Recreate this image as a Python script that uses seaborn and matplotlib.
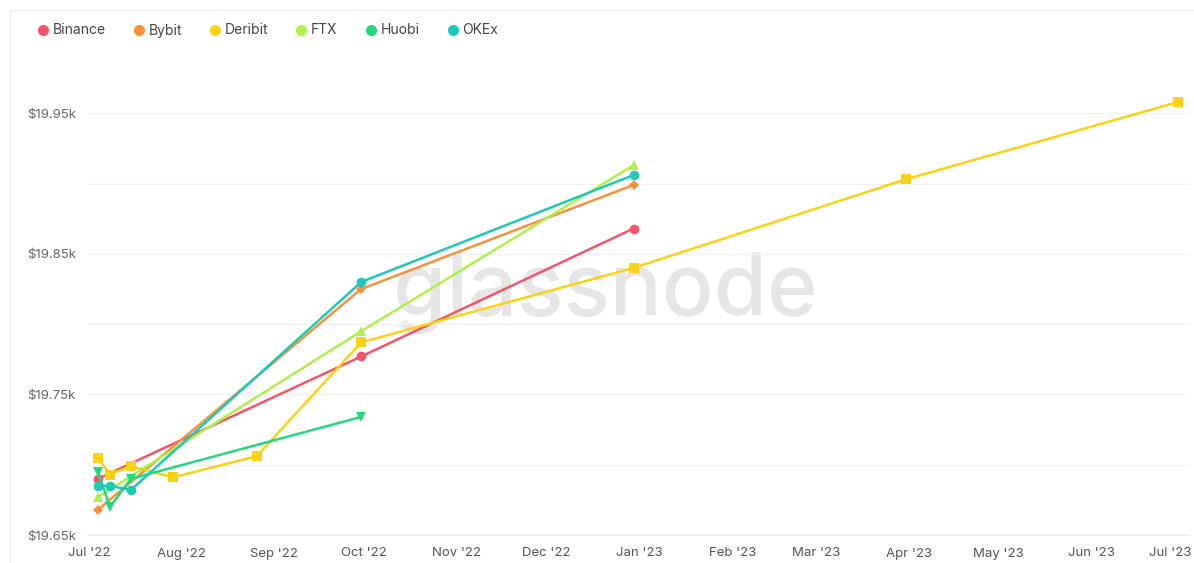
import pandas as pd
import numpy as np
import matplotlib
matplotlib.use("Agg")
import matplotlib.pyplot as plt
import matplotlib.dates as mdates
import matplotlib.transforms as mtransforms
from matplotlib.lines import Line2D
import seaborn as sns

# Futures price by expiry date (USD)
exchanges = ["Binance", "Bybit", "Deribit", "FTX", "Huobi", "OKEx"]

binance_dates = ["2022-07-04", "2022-09-30", "2022-12-30"]
binance_prices = [19690, 19777, 19868]

bybit_dates = ["2022-07-04", "2022-09-30", "2022-12-30"]
bybit_prices = [19668, 19825, 19899]

deribit_dates = ["2022-07-04", "2022-07-08", "2022-07-15", "2022-07-29", "2022-08-26",
                 "2022-09-30", "2022-12-30", "2023-03-31", "2023-06-30"]
deribit_prices = [19705, 19693, 19699, 19691, 19706, 19787, 19840, 19903, 19958]

ftx_dates = ["2022-07-04", "2022-09-30", "2022-12-30"]
ftx_prices = [19677, 19795, 19913]

huobi_dates = ["2022-07-04", "2022-07-08", "2022-07-15", "2022-09-30"]
huobi_prices = [19695, 19670, 19690, 19734]

okex_dates = ["2022-07-04", "2022-07-08", "2022-07-15", "2022-09-30", "2022-12-30"]
okex_prices = [19685, 19685, 19682, 19830, 19906]

colors = {"Binance": "#f5556a", "Bybit": "#f8913c", "Deribit": "#fcd116",
          "FTX": "#aef04c", "Huobi": "#27d67d", "OKEx": "#1ec9b8"}
markers = {"Binance": "o", "Bybit": "D", "Deribit": "s",
           "FTX": "^", "Huobi": "v", "OKEx": "o"}

series = {
    "Binance": (binance_dates, binance_prices),
    "Bybit": (bybit_dates, bybit_prices),
    "Deribit": (deribit_dates, deribit_prices),
    "FTX": (ftx_dates, ftx_prices),
    "Huobi": (huobi_dates, huobi_prices),
    "OKEx": (okex_dates, okex_prices),
}

frames = []
for name in exchanges:
    d, p = series[name]
    frames.append(pd.DataFrame({"date": pd.to_datetime(d), "price": p, "exchange": name}))
df = pd.concat(frames, ignore_index=True)

sns.set_theme(style="white")
plt.rcParams["font.family"] = ["Inter", "DejaVu Sans"]

fig = plt.figure(figsize=(11.94, 5.63), dpi=100)
ax = fig.add_axes([88 / 1194, 1 - 535 / 563, (1190 - 88) / 1194, (535 - 50) / 563])

# watermark
ax.text(0.469, 0.50, "glassnode", transform=ax.transAxes, fontsize=62,
        color="#e6e6e6", ha="center", va="center", zorder=0, fontweight="medium")

sns.lineplot(data=df, x="date", y="price", hue="exchange", style="exchange",
             hue_order=exchanges, style_order=exchanges, palette=colors,
             markers=markers, dashes=False, linewidth=1.8, markersize=7,
             markeredgewidth=0, legend=False, ax=ax, zorder=3)

# the diamonds are drawn smaller in the original
for line in ax.lines:
    if line.get_marker() == "D":
        line.set_markersize(5)

ax.set_xlim(pd.Timestamp("2022-07-01") - pd.Timedelta(hours=8), pd.Timestamp("2023-07-04"))
ax.set_ylim(19650, 19995)

ax.set_yticks([19650, 19750, 19850, 19950])
ax.set_yticklabels(["$19.65k", "$19.75k", "$19.85k", "$19.95k"])
ax.set_yticks([19700, 19800, 19900], minor=True)
ax.grid(True, axis="y", which="both", color="#f0f0f0", linewidth=1)
ax.set_axisbelow(True)

ax.xaxis.set_major_locator(mdates.MonthLocator())
ax.xaxis.set_major_formatter(mdates.DateFormatter("%b '%y"))

ax.tick_params(axis="y", which="both", length=0, pad=44, labelsize=9.5, labelcolor="#666666")
for lbl in ax.get_yticklabels():
    lbl.set_horizontalalignment("left")
ax.tick_params(axis="x", length=4, color="#eeeeee", pad=5, labelsize=9.5, labelcolor="#555555")

fig.canvas.draw()
xlabels = ax.get_xticklabels()
if xlabels:
    last = xlabels[-1]
    last.set_horizontalalignment("right")
    last.set_transform(last.get_transform() + mtransforms.ScaledTranslation(10 / 100, 0, fig.dpi_scale_trans))

for side in ["top", "right", "left"]:
    ax.spines[side].set_visible(False)
ax.spines["bottom"].set_color("#eeeeee")
ax.set_xlabel("")
ax.set_ylabel("")

# legend
handles = [Line2D([0], [0], marker="o", linestyle="", markersize=8,
                  markerfacecolor=colors[n], markeredgewidth=0) for n in exchanges]
fig.legend(handles, exchanges, loc="upper left", bbox_to_anchor=(22 / 1194, 1 - 11 / 563),
           ncol=6, frameon=False, handletextpad=0.1, columnspacing=1.78,
           handlelength=1.2, fontsize=10, labelcolor="#444444")

# panel border (left and top)
fig.add_artist(Line2D([10 / 1194, 10 / 1194], [0, 1 - 10 / 563], transform=fig.transFigure,
                      color="#ececec", linewidth=1))
fig.add_artist(Line2D([10 / 1194, 1], [1 - 10 / 563, 1 - 10 / 563], transform=fig.transFigure,
                      color="#ececec", linewidth=1))

fig.savefig("out.png", dpi=100)
